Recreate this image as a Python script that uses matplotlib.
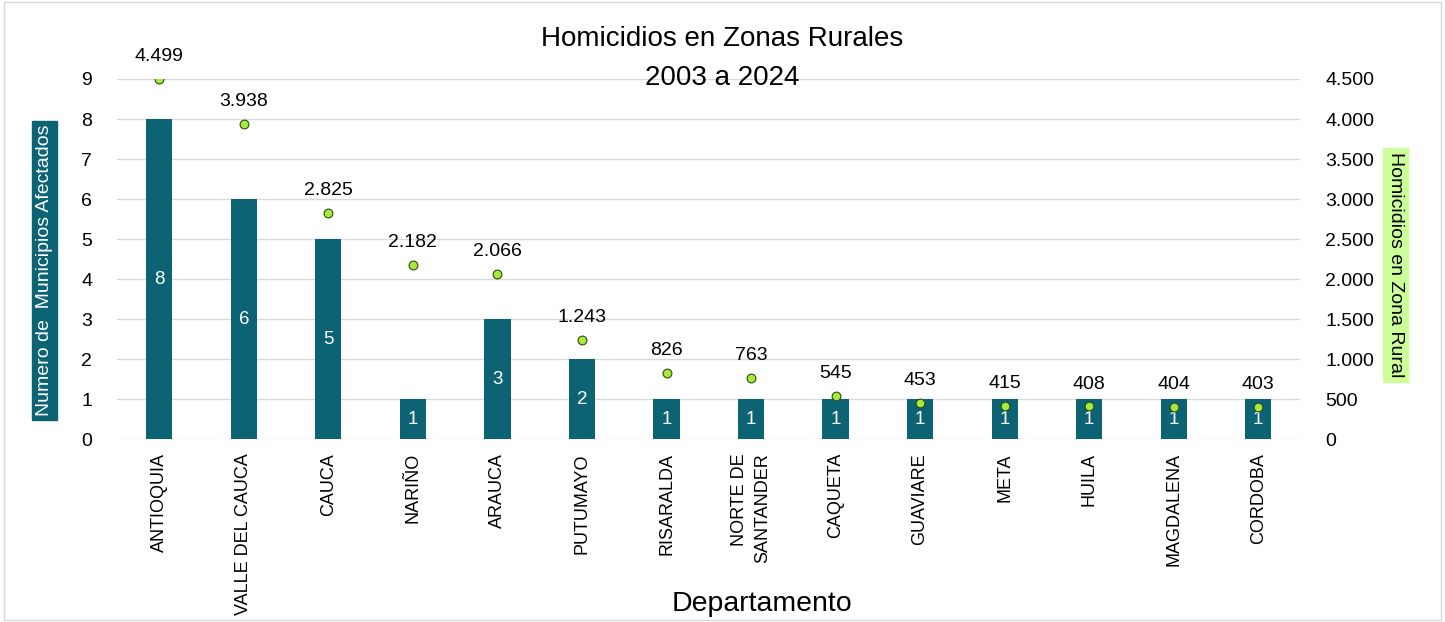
import matplotlib.pyplot as plt
from matplotlib.ticker import FuncFormatter

plt.rcParams['font.family'] = ['Liberation Sans', 'DejaVu Sans']

departamentos = ['ANTIOQUIA', 'VALLE DEL CAUCA', 'CAUCA', 'NARIÑO', 'ARAUCA', 'PUTUMAYO',
                 'RISARALDA', 'NORTE DE\nSANTANDER', 'CAQUETA', 'GUAVIARE', 'META', 'HUILA',
                 'MAGDALENA', 'CORDOBA']
municipios = [8, 6, 5, 1, 3, 2, 1, 1, 1, 1, 1, 1, 1, 1]
homicidios = [4499, 3938, 2825, 2182, 2066, 1243, 826, 763, 545, 453, 415, 408, 404, 403]

def miles(v):
    return f"{int(v):,}".replace(",", ".")

fig = plt.figure(figsize=(14.45, 6.22), dpi=100)
ax = fig.add_axes([0.081, 0.294, 0.819, 0.579])
ax2 = ax.twinx()

x = list(range(len(departamentos)))
ax.bar(x, municipios, width=0.31, color='#0B6374', zorder=2)
for xi, m in zip(x, municipios):
    ax.text(xi, m / 2, str(m), ha='center', va='center', color='white', fontsize=13.5, zorder=3)

ax2.scatter(x, homicidios, s=40, color='#A5EB3C', edgecolor='#2E4A10', linewidth=0.8, zorder=4)
for xi, h in zip(x, homicidios):
    ax2.annotate(miles(h), (xi, h), xytext=(0, 10), textcoords='offset points',
                 ha='center', va='bottom', fontsize=14)

ax.set_xlim(-0.5, len(departamentos) - 0.5)
ax.set_ylim(0, 9)
ax2.set_ylim(0, 4500)
ax.set_yticks(range(0, 10))
ax2.set_yticks(range(0, 4501, 500))
ax2.yaxis.set_major_formatter(FuncFormatter(lambda v, p: miles(v)))

ax.grid(axis='y', color='#D9D9D9', linewidth=1, zorder=0)
ax.set_axisbelow(True)
for a in (ax, ax2):
    for s in a.spines.values():
        s.set_visible(False)
    a.tick_params(length=0, labelsize=14)
ax.tick_params(axis='y', pad=18)
ax2.tick_params(axis='y', pad=18)

ax.set_xticks(x)
ax.set_xticklabels(departamentos, rotation=90, fontsize=13, va='top', ha='center',
                   multialignment='right', linespacing=1.5)
ax.tick_params(axis='x', pad=10)

ax.set_xlabel('Departamento', fontsize=20.5, va='center')
ax.xaxis.set_label_coords(0.545, -0.458)

fig.text(0.031, 0.565, 'Numero de  Municipios Afectados', rotation=90, ha='center', va='center',
         color='white', fontsize=14,
         bbox=dict(facecolor='#0B6374', edgecolor='#0B6374', boxstyle='square,pad=0.2'))
fig.text(0.966, 0.574, 'Homicidios en Zona Rural', rotation=270, ha='center', va='center',
         color='black', fontsize=14,
         bbox=dict(facecolor='#CCFF99', edgecolor='#CCFF99', boxstyle='square,pad=0.2'))

fig.text(0.5, 0.938, 'Homicidios en Zonas Rurales', ha='center', va='center', fontsize=20)
fig.text(0.5, 0.874, '2003 a 2024', ha='center', va='center', fontsize=20)

fig.patches.append(plt.Rectangle((0.003, 0.003), 0.994, 0.994, transform=fig.transFigure,
                                 fill=False, edgecolor='#D9D9D9', linewidth=1))

fig.savefig('out.png', dpi=100)
